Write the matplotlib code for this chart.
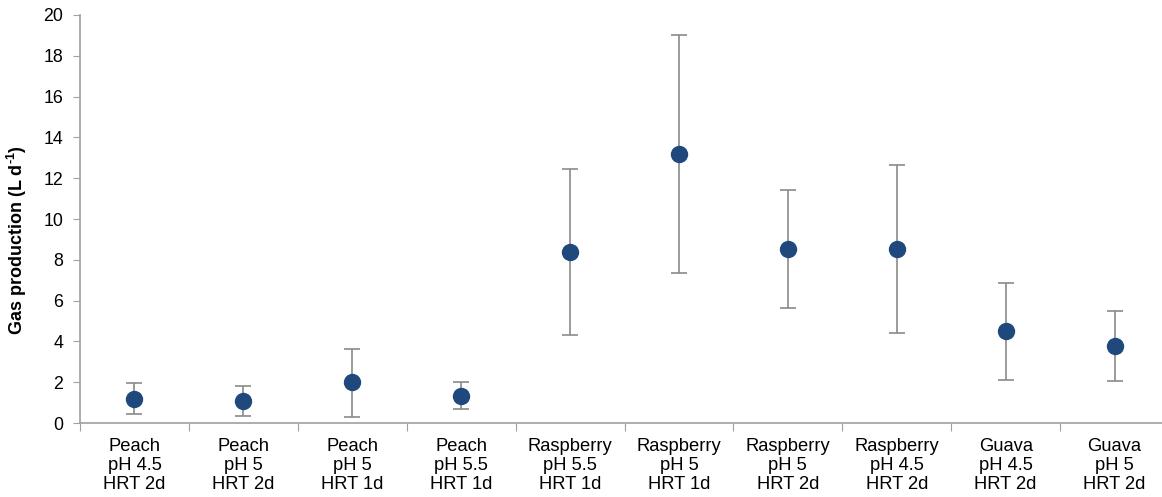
import numpy as np
import matplotlib
matplotlib.use('Agg')
import matplotlib.pyplot as plt

plt.rcParams['font.family'] = ['Liberation Sans', 'DejaVu Sans']
plt.rcParams['mathtext.fontset'] = 'custom'
plt.rcParams['mathtext.rm'] = 'Liberation Sans:bold'
plt.rcParams['mathtext.bf'] = 'Liberation Sans:bold'

labels = ['Peach\npH 4.5\nHRT 2d', 'Peach\npH 5\nHRT 2d', 'Peach\npH 5\nHRT 1d',
          'Peach\npH 5.5\nHRT 1d', 'Raspberry\npH 5.5\nHRT 1d', 'Raspberry\npH 5\nHRT 1d',
          'Raspberry\npH 5\nHRT 2d', 'Raspberry\npH 4.5\nHRT 2d', 'Guava\npH 4.5\nHRT 2d',
          'Guava\npH 5\nHRT 2d']
gas = [1.18, 1.08, 1.99, 1.32, 8.36, 13.19, 8.51, 8.55, 4.51, 3.77]
upper = [1.98, 1.81, 3.63, 2.0, 12.45, 19.03, 11.4, 12.66, 6.86, 5.49]
lower = [0.42, 0.34, 0.31, 0.67, 4.3, 7.34, 5.65, 4.43, 2.11, 2.06]

gas = np.array(gas)
yerr = [gas - np.array(lower), np.array(upper) - gas]
x = np.arange(len(labels)) + 0.5

fig = plt.figure(figsize=(11.62, 4.97), dpi=100)
ax = fig.add_axes([80 / 1162, 74 / 497, 1089 / 1162, 408 / 497])

ax.errorbar(x, gas, yerr=yerr, fmt='o', color='#1f497d', markersize=11.5,
            ecolor='#8a8a8a', elinewidth=1.2, capsize=5.5, capthick=1.2, zorder=3)

ax.set_xlim(0, 10)
ax.set_ylim(0, 20)
ax.set_yticks(np.arange(0, 21, 2))
ax.set_xticks(np.arange(0, 11))
ax.set_xticklabels([])
ax.set_xticks(x, minor=True)
ax.set_xticklabels(labels, minor=True, fontsize=13.2, linespacing=1.15)
ax.tick_params(axis='x', which='minor', length=0, pad=11)
ax.tick_params(axis='x', which='major', length=6, color='#a0a0a0', direction='out')
ax.tick_params(axis='y', length=5, color='#a0a0a0', labelsize=12.8, pad=7)

for s in ['top', 'right']:
    ax.spines[s].set_visible(False)
for s in ['left', 'bottom']:
    ax.spines[s].set_color('#a0a0a0')
    ax.spines[s].set_linewidth(1.2)

ax.set_ylabel('Gas production (L d$^{\\text{-1}}$)', fontsize=13, fontweight='bold')
ax.yaxis.set_label_coords(-0.047, 0.449)

fig.savefig('out.png', dpi=100)
